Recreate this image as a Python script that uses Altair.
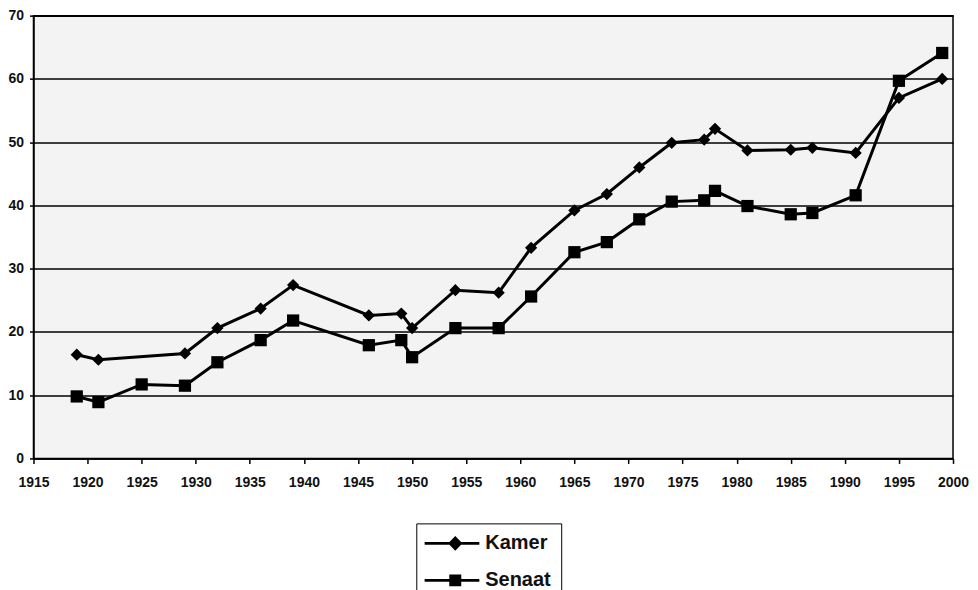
import altair as alt
import pandas as pd

years = [1919, 1921, 1925, 1929, 1932, 1936, 1939, 1946, 1949, 1950, 1954, 1958,
         1961, 1965, 1968, 1971, 1974, 1977, 1978, 1981, 1985, 1987, 1991, 1995, 1999]
kamer = [16.4, 15.6, None, 16.6, 20.6, 23.7, 27.4, 22.6, 22.9, 20.6, 26.6, 26.2,
         33.3, 39.2, 41.8, 46.0, 49.9, 50.4, 52.1, 48.7, 48.8, 49.1, 48.3, 57.0, 60.0]
senaat = [9.8, 8.9, 11.7, 11.5, 15.2, 18.7, 21.8, 17.9, 18.7, 16.0, 20.6, 20.6,
          25.6, 32.6, 34.2, 37.8, 40.6, 40.8, 42.3, 39.9, 38.6, 38.8, 41.6, 59.7, 64.1]
series_names = ["Kamer", "Senaat"]
x_ticks = list(range(1915, 2001, 5))
y_ticks = list(range(0, 71, 10))

rows = []
for name, vals in zip(series_names, [kamer, senaat]):
    for yr, v in zip(years, vals):
        if v is not None:
            rows.append({"jaar": yr, "waarde": v, "reeks": name, "reeks_leg": name})
df = pd.DataFrame(rows)

FONT = "Liberation Sans"

x_enc = alt.X("jaar:Q",
              scale=alt.Scale(domain=[1915, 2000], nice=False, zero=False),
              axis=alt.Axis(values=x_ticks, format="d", title=None, grid=False,
                            tickSize=5, tickColor="black", tickWidth=1.5,
                            domainColor="black", domainWidth=1.5,
                            labelFont=FONT, labelFontSize=14, labelFontWeight="bold",
                            labelColor="#111111", labelPadding=12, labelFlush=False))
y_enc = alt.Y("waarde:Q",
              scale=alt.Scale(domain=[0, 70], nice=False),
              axis=alt.Axis(values=y_ticks, title=None, grid=True,
                            gridColor="black", gridWidth=1.5, gridOpacity=1,
                            tickSize=4, tickColor="black", tickWidth=1.5,
                            domainColor="black", domainWidth=1.5,
                            labelFont=FONT, labelFontSize=14, labelFontWeight="bold",
                            labelColor="#111111", labelPadding=6))

base = alt.Chart(df)

lines = base.mark_line(color="black", strokeWidth=3).encode(
    x=x_enc, y=y_enc, detail="reeks:N")

points = base.mark_point(filled=True, color="black", size=150, opacity=1,
                         strokeWidth=1).encode(
    x="jaar:Q", y="waarde:Q",
    shape=alt.Shape("reeks:N",
                    scale=alt.Scale(domain=series_names, range=["diamond", "square"]),
                    legend=None))

# legend glyphs: a thin horizontal bar (the line) with the marker on it
legend_paths = ["M-4.2,-0.2H-0.8L0,-1L0.8,-0.2H3.3V0.2H0.8L0,1L-0.8,0.2H-4.2Z",
                "M-4.2,-0.2H-0.82V-0.82H0.82V-0.2H3.3V0.2H0.82V0.82H-0.82V0.2H-4.2Z"]

legend_layer = base.transform_filter("false").mark_point(
    filled=True, color="black", opacity=1).encode(
    x="jaar:Q", y="waarde:Q",
    shape=alt.Shape("reeks_leg:N",
                    scale=alt.Scale(domain=series_names, range=legend_paths),
                    legend=alt.Legend(orient="none", legendX=383, legendY=508,
                                      title=None, strokeColor="black",
                                      fillColor="white", padding=10,
                                      symbolOffset=19, labelOffset=20,
                                      symbolSize=213,
                                      symbolFillColor="black",
                                      labelFont=FONT, labelFontSize=20,
                                      labelFontWeight="bold", labelColor="#111111",
                                      rowPadding=16)))

chart = alt.layer(lines, points, legend_layer).resolve_scale(
    shape="independent"
).properties(
    width=920, height=443,
    autosize=alt.AutoSizeParams(type="none"),
    padding={"left": 25.5, "top": 7.5, "right": 17, "bottom": 150},
    background="white",
).configure_view(
    fill="#f3f3f3", stroke="black", strokeWidth=1.5
)

chart.save("out.html", embed_options={"renderer": "svg", "actions": False})
